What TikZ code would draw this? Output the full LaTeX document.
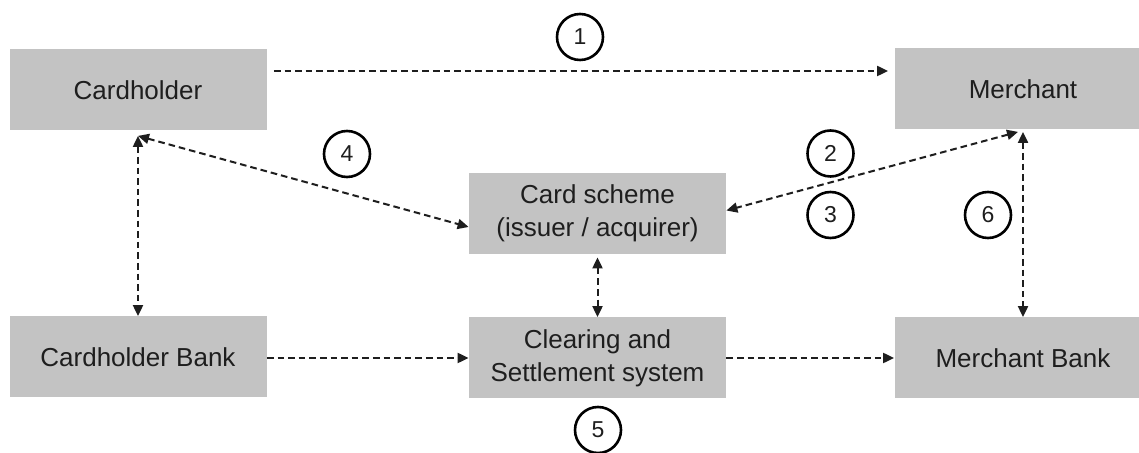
\documentclass[tikz,border=0pt]{standalone}
\usepackage{fontspec}
\setmainfont{Liberation Sans}
\usetikzlibrary{arrows.meta,calc}
\definecolor{boxgray}{HTML}{C3C3C3}
\definecolor{ink}{HTML}{1E1E1E}
\begin{document}
\begin{tikzpicture}[x=0.5pt,y=-0.5pt,
  entity/.style={fill=boxgray, draw=none, minimum width=128.5pt, minimum height=40.5pt,
    inner sep=0pt, align=center, font=\fontsize{13}{16.5}\selectfont, text=ink},
  tip/.tip={Triangle[length=5.5pt,width=5pt]},
  flow/.style={draw=ink, line width=1pt, dash pattern=on 3.3pt off 2pt, -tip},
  twoway/.style={flow, tip-tip},
  stepnum/.style={circle, draw=black, line width=1.3pt, minimum size=23pt,
    inner sep=0pt, font=\fontsize{11.5}{12}\selectfont, text=ink}]
  % page frame
  \clip (0,0) rectangle (1139,453);
  \fill[white] (0,0) rectangle (1139,453);

  % parties
  \node[entity] (ch) at (138,90)      {Cardholder};
  \node[entity] (m)  at (1023,89)     {Merchant};
  \node[entity] (cs) at (597.5,213.5) {Card scheme\\(issuer / acquirer)};
  \node[entity] (cb) at (138,357)     {Cardholder Bank};
  \node[entity] (cl) at (597.5,358)   {Clearing and\\Settlement system};
  \node[entity] (mb) at (1023,358)    {Merchant Bank};

  % flows
  \draw[flow]   ($(ch.east)+(7,-19)$) -- ($(m.west)+(-6,-18)$);
  \draw[twoway] ($(ch.south)+(0,5)$) -- (cb.north);
  \draw[twoway] ($(ch.south)+(0,5)$) -- ($(cs.west)+(0,13.5)$);
  \draw[twoway] ($(m.south)+(-5,2)$) -- ($(cs.east)+(0,-3)$);
  \draw[twoway] ($(m.south)+(0,2)$) -- (mb.north);
  \draw[twoway] ($(cs.south)+(0,3)$) -- (cl.north);
  \draw[flow]   ($(cb.east)+(0,1)$) -- (cl.west);
  \draw[flow]   (cl.east) -- (mb.west);

  % step numbers
  \node[stepnum] (n1) at (580,37)      {1};
  \node[stepnum] (n2) at (830.5,153.5) {2};
  \node[stepnum] (n3) at (830.5,215)   {3};
  \node[stepnum] (n4) at (347,154)     {4};
  \node[stepnum] (n5) at (598,430)     {5};
  \node[stepnum] (n6) at (988,215)     {6};
\end{tikzpicture}
\end{document}
